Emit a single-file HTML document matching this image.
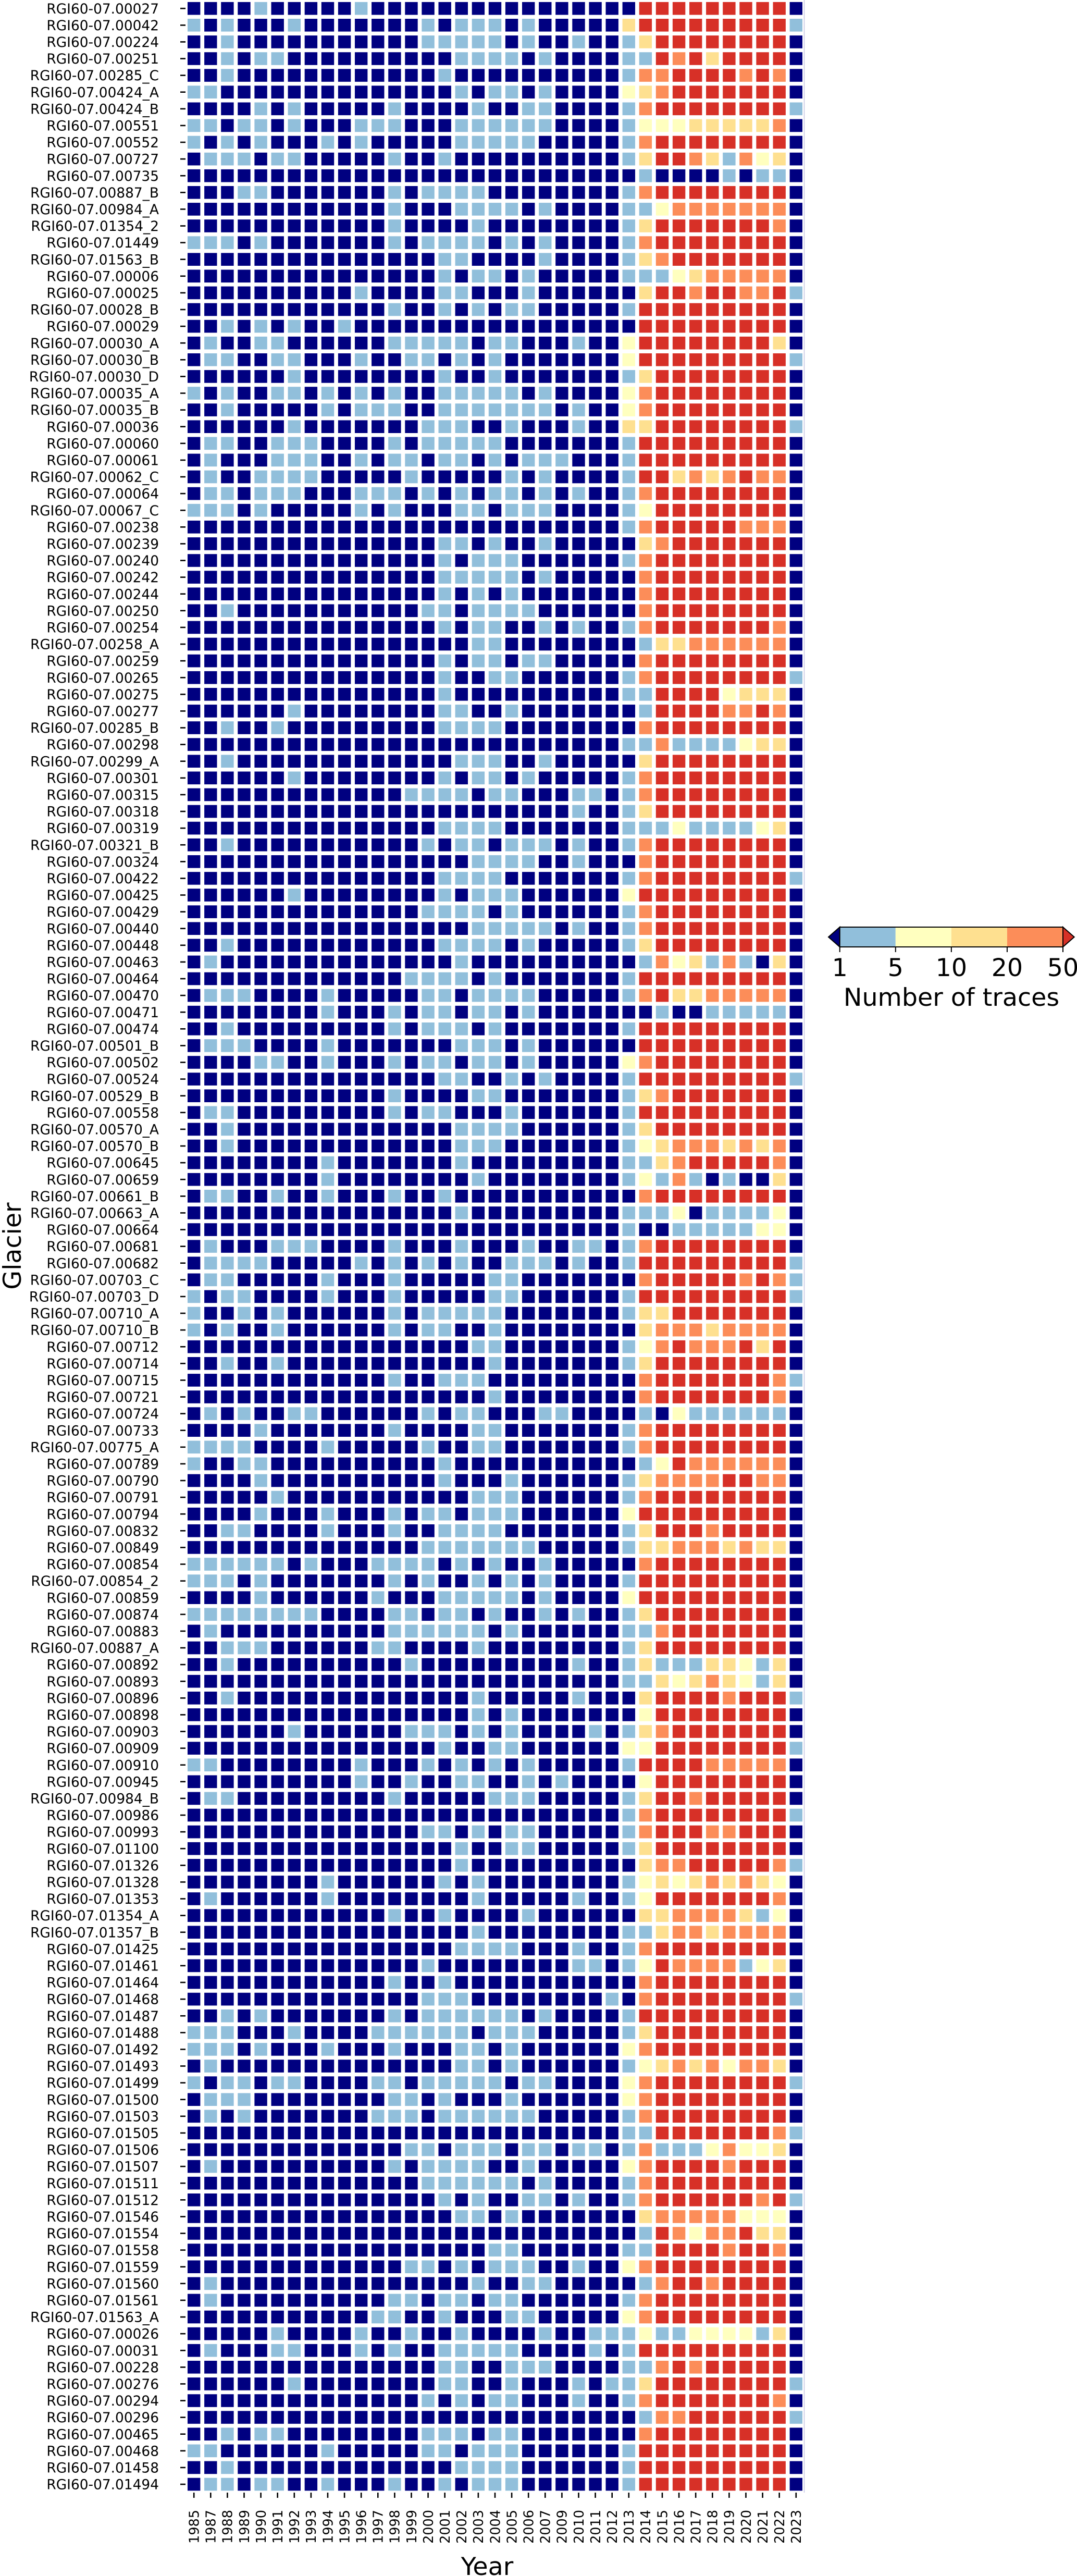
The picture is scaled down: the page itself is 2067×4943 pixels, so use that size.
<!DOCTYPE html>
<html lang="en">
<head>
<meta charset="utf-8">
<title>Number of traces per glacier and year</title>
<style>
html,body{margin:0;padding:0;background:#fff;}
svg{display:block;font-family:"DejaVu Sans","Liberation Sans",sans-serif;}
</style>
</head>
<body>
<svg id="chart" xmlns="http://www.w3.org/2000/svg" width="2067" height="4943" viewBox="0 0 2067 4943">
<rect x="0" y="0" width="2067" height="4943" fill="#ffffff"/>
<g id="cells"></g>
<g id="yticks"></g>
<g id="xticks"></g>
<line x1="1543.5" y1="0" x2="1543.5" y2="4783" stroke="#c4c4e2" stroke-width="1.5"/>
<text transform="translate(40 2391) rotate(-90)" text-anchor="middle" font-size="47.5" fill="#000">Glacier</text>
<text x="935" y="4941" text-anchor="middle" font-size="47.5" fill="#000">Year</text>
<g id="colorbar"></g>
<text x="1826" y="1930" text-anchor="middle" font-size="47.5" fill="#000">Number of traces</text>
</svg>
<script>
const years = [1985,1987,1988,1989,1990,1991,1992,1993,1994,1995,1996,1997,1998,1999,2000,2001,2002,2003,2004,2005,2006,2007,2009,2010,2011,2012,2013,2014,2015,2016,2017,2018,2019,2020,2021,2022,2023];
const glaciers = ["RGI60-07.00027","RGI60-07.00042","RGI60-07.00224","RGI60-07.00251","RGI60-07.00285_C","RGI60-07.00424_A","RGI60-07.00424_B","RGI60-07.00551","RGI60-07.00552","RGI60-07.00727","RGI60-07.00735","RGI60-07.00887_B","RGI60-07.00984_A","RGI60-07.01354_2","RGI60-07.01449","RGI60-07.01563_B","RGI60-07.00006","RGI60-07.00025","RGI60-07.00028_B","RGI60-07.00029","RGI60-07.00030_A","RGI60-07.00030_B","RGI60-07.00030_D","RGI60-07.00035_A","RGI60-07.00035_B","RGI60-07.00036","RGI60-07.00060","RGI60-07.00061","RGI60-07.00062_C","RGI60-07.00064","RGI60-07.00067_C","RGI60-07.00238","RGI60-07.00239","RGI60-07.00240","RGI60-07.00242","RGI60-07.00244","RGI60-07.00250","RGI60-07.00254","RGI60-07.00258_A","RGI60-07.00259","RGI60-07.00265","RGI60-07.00275","RGI60-07.00277","RGI60-07.00285_B","RGI60-07.00298","RGI60-07.00299_A","RGI60-07.00301","RGI60-07.00315","RGI60-07.00318","RGI60-07.00319","RGI60-07.00321_B","RGI60-07.00324","RGI60-07.00422","RGI60-07.00425","RGI60-07.00429","RGI60-07.00440","RGI60-07.00448","RGI60-07.00463","RGI60-07.00464","RGI60-07.00470","RGI60-07.00471","RGI60-07.00474","RGI60-07.00501_B","RGI60-07.00502","RGI60-07.00524","RGI60-07.00529_B","RGI60-07.00558","RGI60-07.00570_A","RGI60-07.00570_B","RGI60-07.00645","RGI60-07.00659","RGI60-07.00661_B","RGI60-07.00663_A","RGI60-07.00664","RGI60-07.00681","RGI60-07.00682","RGI60-07.00703_C","RGI60-07.00703_D","RGI60-07.00710_A","RGI60-07.00710_B","RGI60-07.00712","RGI60-07.00714","RGI60-07.00715","RGI60-07.00721","RGI60-07.00724","RGI60-07.00733","RGI60-07.00775_A","RGI60-07.00789","RGI60-07.00790","RGI60-07.00791","RGI60-07.00794","RGI60-07.00832","RGI60-07.00849","RGI60-07.00854","RGI60-07.00854_2","RGI60-07.00859","RGI60-07.00874","RGI60-07.00883","RGI60-07.00887_A","RGI60-07.00892","RGI60-07.00893","RGI60-07.00896","RGI60-07.00898","RGI60-07.00903","RGI60-07.00909","RGI60-07.00910","RGI60-07.00945","RGI60-07.00984_B","RGI60-07.00986","RGI60-07.00993","RGI60-07.01100","RGI60-07.01326","RGI60-07.01328","RGI60-07.01353","RGI60-07.01354_A","RGI60-07.01357_B","RGI60-07.01425","RGI60-07.01461","RGI60-07.01464","RGI60-07.01468","RGI60-07.01487","RGI60-07.01488","RGI60-07.01492","RGI60-07.01493","RGI60-07.01499","RGI60-07.01500","RGI60-07.01503","RGI60-07.01505","RGI60-07.01506","RGI60-07.01507","RGI60-07.01511","RGI60-07.01512","RGI60-07.01546","RGI60-07.01554","RGI60-07.01558","RGI60-07.01559","RGI60-07.01560","RGI60-07.01561","RGI60-07.01563_A","RGI60-07.00026","RGI60-07.00031","RGI60-07.00228","RGI60-07.00276","RGI60-07.00294","RGI60-07.00296","RGI60-07.00465","RGI60-07.00468","RGI60-07.01458","RGI60-07.01494"];
const colorbarTicks = [1,5,10,20,50];
const classColors = ["#000080","#91bfdb","#ffffbf","#fee090","#fc8d59","#d73027"];
/* Trace-count class per glacier (row) and year (column):
   0 = below 1, 1 = 1-5, 2 = 5-10, 3 = 10-20, 4 = 20-50, 5 = above 50 */
const traceClass = [
[0,0,0,0,1,0,0,0,0,0,1,0,0,0,0,0,0,0,0,0,0,0,0,0,0,0,0,5,5,5,5,5,5,5,5,5,0],
[1,0,1,0,0,0,1,0,0,0,0,0,0,0,1,0,1,1,1,0,1,0,0,0,0,0,3,5,5,5,5,5,5,5,5,5,1],
[0,0,1,0,0,0,0,0,0,0,0,0,0,0,1,1,1,1,1,0,1,0,0,1,0,0,1,3,5,5,5,5,5,5,5,5,0],
[0,0,1,0,1,1,0,0,0,0,0,0,0,0,0,0,1,1,1,1,0,1,0,0,0,0,1,1,5,4,5,3,5,5,5,5,0],
[0,0,1,0,0,0,0,0,0,0,0,0,0,0,0,1,0,0,0,0,0,0,0,0,0,0,1,4,4,5,5,5,5,4,5,4,0],
[1,1,0,0,0,0,0,0,0,0,0,0,0,0,0,0,1,0,1,1,0,1,0,0,0,0,2,3,4,5,5,5,5,5,5,5,0],
[0,0,0,0,1,0,1,0,0,0,0,0,1,0,0,0,0,1,0,0,1,1,0,0,0,0,1,4,5,5,5,5,5,5,5,5,1],
[1,1,0,1,1,0,1,0,0,0,1,1,1,0,0,0,1,1,1,1,1,1,0,0,0,0,1,2,2,2,3,3,3,3,3,4,0],
[1,0,1,0,1,0,0,0,1,0,1,0,0,0,0,0,1,1,1,1,1,0,0,0,0,0,1,4,5,5,5,5,5,5,5,5,0],
[0,1,1,1,0,1,1,0,0,0,0,0,1,0,0,1,0,0,0,0,0,0,0,0,0,0,1,3,5,5,4,3,1,4,2,3,0],
[0,0,0,0,0,0,0,0,0,0,0,0,0,0,0,0,0,0,0,0,0,0,0,0,0,0,0,1,0,0,0,0,1,0,1,1,0],
[0,0,0,1,1,0,0,0,0,0,0,0,1,0,1,1,1,1,0,0,0,0,0,0,0,0,1,4,5,5,5,5,5,5,5,5,0],
[0,0,0,0,0,0,0,0,0,0,0,0,1,0,0,0,1,1,1,1,0,1,0,0,0,0,1,1,2,4,4,4,4,4,4,4,0],
[0,0,0,0,0,0,0,0,0,0,0,0,1,0,0,0,0,1,0,0,0,0,0,0,0,0,1,3,5,5,5,5,5,5,5,4,0],
[1,1,1,0,1,0,0,0,0,0,0,0,1,0,1,1,1,1,0,1,0,1,0,0,0,0,1,4,5,5,5,5,5,5,5,5,0],
[0,0,0,0,0,0,0,0,0,0,0,0,0,0,0,1,1,0,0,0,0,1,0,0,0,0,1,3,4,5,5,5,5,5,5,5,0],
[0,0,0,0,0,0,0,0,0,0,0,0,0,0,0,1,0,1,1,0,1,0,0,0,0,0,1,1,1,2,3,4,4,4,4,4,0],
[0,0,0,0,0,0,0,0,0,0,1,0,0,0,0,1,1,0,0,0,1,0,0,0,0,0,0,3,5,5,4,5,5,4,4,5,1],
[0,0,0,0,0,0,0,0,0,0,0,0,1,0,0,1,0,1,0,1,1,0,0,0,0,0,1,5,5,5,5,5,5,5,5,5,0],
[0,0,1,0,1,0,1,0,0,1,0,0,0,0,0,0,0,0,0,0,0,0,0,0,0,0,0,5,5,5,5,5,5,5,5,5,0],
[0,1,0,0,1,1,0,0,0,0,0,0,1,1,1,1,1,0,1,1,0,0,0,1,0,0,2,5,5,5,5,5,5,5,5,3,0],
[0,1,1,0,0,1,1,0,0,0,1,0,0,1,1,0,1,0,1,0,0,0,0,0,0,0,2,5,5,5,5,5,5,5,5,5,1],
[0,0,0,0,0,0,1,0,0,0,0,0,0,0,0,1,0,0,1,0,0,0,0,0,0,0,1,3,5,5,5,5,5,5,5,5,0],
[1,0,1,0,0,1,1,0,1,0,1,0,1,0,0,1,1,1,1,1,0,1,0,0,0,0,2,4,5,5,5,5,5,5,5,5,0],
[0,0,1,0,0,0,0,0,1,0,1,1,1,0,0,1,1,1,1,1,1,1,0,1,0,0,2,4,5,5,5,5,5,5,5,5,0],
[0,0,0,0,0,0,1,0,0,0,0,0,0,0,1,1,1,0,0,1,0,0,0,1,0,0,3,3,5,5,5,5,5,5,5,5,1],
[0,1,1,0,0,1,1,1,0,0,0,0,1,0,1,1,1,1,1,0,0,0,0,0,0,0,1,5,5,5,5,5,5,5,5,5,0],
[0,1,0,0,0,1,1,1,0,0,1,0,1,1,0,1,1,0,1,0,1,1,1,0,0,0,1,5,5,5,5,5,5,5,5,5,0],
[0,1,0,0,1,1,1,1,0,0,0,0,0,1,0,0,0,0,0,1,0,1,0,0,0,0,1,5,5,3,4,3,4,5,4,4,0],
[0,1,1,0,1,1,1,0,0,0,1,1,1,0,1,0,1,0,1,1,0,1,0,1,0,0,1,4,5,5,5,5,5,5,5,5,0],
[1,1,1,0,1,0,0,0,0,0,1,0,1,0,0,0,1,1,0,1,1,1,0,0,0,0,1,2,5,5,5,5,5,5,5,5,0],
[0,0,0,0,0,0,0,0,0,0,0,0,0,0,0,0,0,0,0,0,0,0,0,0,0,0,1,4,5,5,5,5,5,4,4,4,0],
[0,0,0,0,0,0,0,0,0,0,0,0,0,0,0,1,1,0,1,0,0,1,0,0,0,0,0,3,4,5,5,5,5,5,5,5,0],
[0,0,0,0,0,0,0,0,0,0,0,0,0,0,0,1,0,1,1,1,0,0,0,0,0,0,1,4,5,5,5,5,5,5,5,5,0],
[0,0,0,0,0,0,0,0,0,0,0,0,0,0,0,1,1,1,1,1,0,1,0,0,0,0,0,4,5,5,5,5,5,5,5,5,0],
[0,0,0,0,0,0,0,0,0,0,0,0,0,0,0,1,0,1,0,1,0,0,0,0,0,0,0,4,5,5,5,5,5,5,5,5,0],
[0,0,1,0,0,0,0,0,0,0,0,0,0,0,1,1,0,1,1,1,1,0,0,0,0,0,0,4,5,5,5,5,5,5,5,5,0],
[0,0,0,0,0,0,0,0,0,0,0,0,0,0,0,1,0,1,1,0,0,1,0,1,0,0,1,4,5,5,5,5,5,5,5,4,0],
[0,0,0,0,0,0,0,0,0,0,0,0,0,0,0,0,0,1,1,0,0,0,0,0,0,0,0,1,3,3,4,4,4,4,4,4,0],
[0,0,0,0,0,0,0,0,0,0,0,0,0,0,0,1,0,1,1,0,1,1,0,0,0,0,0,4,5,5,5,5,5,5,5,5,0],
[0,0,0,0,0,0,0,0,0,0,0,0,0,0,0,1,0,0,1,1,0,0,0,0,0,0,1,4,5,5,5,5,5,5,5,5,1],
[0,0,0,0,0,0,0,0,0,0,0,0,0,0,0,1,0,0,0,0,0,0,0,0,0,0,1,1,5,5,5,5,2,3,3,3,0],
[0,0,0,0,0,0,1,0,0,0,0,0,0,0,0,1,1,0,0,1,0,0,0,0,0,0,0,1,5,5,5,5,4,4,5,4,0],
[0,0,1,0,0,1,0,0,0,0,0,0,0,0,0,1,1,1,1,0,0,0,0,0,0,0,0,4,5,5,5,5,5,5,5,5,0],
[0,0,0,0,0,0,0,0,0,0,0,0,0,0,0,0,0,0,0,0,0,0,0,0,0,0,1,1,4,1,1,1,1,2,3,3,0],
[0,0,1,0,0,0,0,0,0,0,0,0,0,0,0,0,1,1,1,0,0,1,0,0,0,0,0,3,5,5,5,5,5,5,5,5,0],
[0,0,0,0,0,0,1,0,0,0,0,0,0,0,0,1,0,1,1,0,1,0,0,0,0,0,1,4,5,5,5,5,5,5,5,5,0],
[0,0,0,0,0,0,0,0,0,0,0,0,0,1,1,1,1,0,1,1,0,0,0,1,1,0,1,4,5,5,5,5,5,5,5,5,0],
[0,0,0,0,0,0,0,0,0,0,0,0,0,0,0,0,0,0,0,0,0,0,0,1,0,0,1,3,5,5,5,5,5,5,5,5,0],
[0,0,0,0,0,0,0,0,0,0,0,0,0,0,0,1,1,1,1,0,0,0,0,0,0,0,1,1,1,2,1,1,1,1,2,3,0],
[0,0,1,0,0,0,0,0,0,0,0,0,0,0,1,0,1,1,0,1,1,1,0,1,0,0,1,4,5,5,5,5,5,5,5,5,0],
[0,0,0,0,0,0,0,0,0,0,0,0,0,0,0,0,0,1,1,1,1,0,0,1,0,0,0,4,5,5,5,5,5,5,5,5,0],
[0,0,0,0,0,0,0,0,0,0,0,0,0,0,0,1,1,1,1,0,0,0,0,0,0,0,1,4,5,5,5,5,5,5,5,5,1],
[0,0,0,0,0,0,1,0,0,0,0,0,0,0,0,1,0,1,1,1,0,0,0,0,0,0,2,5,5,5,5,5,5,5,5,5,0],
[0,0,0,0,0,0,0,0,0,0,0,0,0,0,1,1,1,1,0,1,0,0,0,0,0,0,1,4,5,5,5,5,5,5,5,5,0],
[0,0,0,0,0,0,0,0,0,0,0,0,0,0,0,0,0,1,1,1,1,1,0,1,0,0,1,4,5,5,5,5,5,5,5,5,0],
[0,0,1,0,0,0,0,0,0,0,0,0,0,0,0,1,1,1,1,0,1,0,0,0,0,0,1,3,5,5,5,5,5,5,5,5,0],
[0,1,0,0,0,0,0,0,0,0,0,0,0,0,0,0,1,0,0,0,0,0,0,0,0,0,0,1,4,2,3,1,4,1,0,3,0],
[0,0,0,0,0,0,0,0,0,0,0,0,0,1,1,1,1,0,1,0,0,0,0,0,0,0,1,5,5,5,5,5,5,5,5,5,0],
[0,1,1,1,0,0,0,0,1,0,0,0,0,0,1,1,0,1,1,1,1,0,0,0,0,0,1,4,5,3,3,4,4,4,4,4,0],
[0,0,0,0,0,0,0,0,1,0,0,0,1,0,1,1,0,1,1,0,1,0,0,0,0,0,0,0,1,0,0,1,1,1,1,1,0],
[0,0,1,0,0,0,0,0,0,0,0,0,1,0,1,1,1,0,1,0,0,0,0,0,0,0,1,5,5,5,5,5,5,5,5,5,0],
[0,1,1,1,0,0,0,0,1,0,0,0,0,0,0,0,1,1,1,0,1,0,0,0,0,0,0,5,5,5,5,5,5,5,5,5,0],
[0,0,0,0,1,1,0,0,1,0,0,0,1,0,1,1,0,1,1,0,1,0,0,0,0,0,2,4,5,5,5,5,5,5,5,5,0],
[0,0,0,0,0,0,0,0,0,0,0,0,0,0,0,1,1,0,0,1,0,1,0,0,0,0,1,5,5,5,5,5,5,5,5,5,1],
[0,0,0,0,0,0,0,0,0,0,0,0,1,0,0,0,0,1,1,0,0,0,0,0,0,0,1,3,4,5,5,5,5,5,5,5,0],
[0,1,1,0,0,0,0,0,0,0,0,0,1,0,1,1,0,0,0,1,0,0,0,0,0,0,1,5,5,5,5,5,5,5,5,5,0],
[0,0,1,0,0,0,0,0,0,0,0,0,0,0,0,0,1,1,1,1,0,0,0,0,0,0,1,3,5,5,5,5,5,5,5,5,0],
[0,0,1,0,0,0,0,0,0,0,0,0,0,0,0,0,1,1,1,0,0,0,0,0,0,0,1,2,3,4,4,4,3,4,3,4,0],
[0,0,0,0,0,0,0,0,1,0,0,0,0,0,0,0,1,0,0,0,0,0,0,0,0,0,1,1,3,4,5,5,5,5,5,4,0],
[0,0,0,0,0,0,0,0,1,0,0,0,0,0,0,0,0,1,0,0,0,0,0,0,0,0,1,2,1,4,1,0,1,0,0,3,0],
[0,1,1,0,0,1,0,0,1,0,0,0,1,0,0,1,0,0,0,0,0,0,0,0,0,0,0,4,5,5,5,5,5,5,5,5,0],
[0,0,0,0,0,0,0,0,0,0,0,0,0,0,0,0,1,0,0,0,0,0,0,0,0,0,1,1,1,2,0,1,1,1,1,2,0],
[0,0,0,0,0,0,0,0,0,0,0,0,0,0,0,0,0,0,0,0,0,0,0,0,0,0,1,0,0,1,1,1,1,1,2,2,0],
[0,1,0,0,0,1,1,1,0,0,0,0,1,0,0,0,1,0,0,0,1,0,0,1,1,0,1,4,5,5,5,5,5,5,5,5,0],
[0,1,1,1,1,0,0,0,0,0,1,0,1,0,1,0,1,0,0,1,1,1,0,1,0,0,1,5,5,5,5,5,5,5,5,5,1],
[0,1,1,0,0,0,0,0,1,0,0,0,1,0,0,0,0,0,1,1,0,0,0,0,0,0,0,4,5,5,5,5,5,4,5,4,1],
[1,0,1,1,0,0,0,0,1,0,0,0,1,0,0,0,0,0,1,1,0,0,0,0,0,0,1,5,5,5,5,5,5,5,5,5,1],
[1,0,0,1,0,1,0,0,0,0,0,0,1,0,1,1,1,1,1,0,0,0,0,0,0,0,1,3,3,5,5,5,5,5,5,5,0],
[1,0,1,0,0,1,0,0,0,0,0,0,1,0,1,1,0,0,1,0,0,0,0,0,0,0,0,3,4,4,4,3,4,4,4,4,0],
[0,0,0,0,0,0,0,0,0,0,0,0,0,0,0,0,0,1,1,0,0,0,0,0,0,0,1,2,4,5,4,4,4,5,3,5,0],
[0,0,1,0,0,1,0,0,0,0,0,0,0,0,0,0,0,0,1,0,0,0,0,0,0,0,1,3,5,5,5,5,5,5,5,5,0],
[0,0,0,0,0,0,0,0,0,0,0,0,1,0,0,1,1,1,0,0,0,0,0,0,0,0,0,4,5,5,5,5,5,5,5,4,1],
[0,0,0,0,0,0,0,0,0,0,0,0,0,0,0,0,0,0,1,0,0,0,0,0,0,0,0,4,5,5,5,5,5,5,5,4,0],
[0,1,0,1,0,0,1,1,0,0,0,0,0,0,1,0,1,1,0,0,0,1,1,0,0,0,0,1,0,2,1,1,1,1,1,1,0],
[0,0,0,0,1,0,0,0,0,0,0,0,1,0,0,0,0,1,1,0,0,0,0,0,0,0,1,4,5,5,5,5,5,5,5,5,0],
[1,1,1,1,0,0,0,0,1,0,0,0,0,0,1,0,0,1,1,0,0,0,0,0,0,0,1,4,5,5,5,5,5,5,5,5,0],
[1,0,0,1,1,0,0,0,0,0,0,0,0,0,0,1,0,0,0,0,0,0,0,0,0,0,0,1,2,5,4,4,4,4,4,4,0],
[0,0,0,0,1,0,0,0,0,0,0,0,0,0,0,1,0,0,0,1,0,0,0,0,0,0,1,3,4,4,4,4,5,5,4,4,0],
[0,0,0,0,0,1,0,0,0,0,0,0,0,0,0,0,0,1,1,1,0,0,0,0,0,0,1,4,5,5,5,5,5,5,5,5,0],
[0,0,0,0,1,0,0,0,1,0,0,0,1,0,1,1,0,1,1,1,0,0,0,0,0,0,2,5,5,5,5,5,5,5,5,5,0],
[0,0,1,1,0,0,0,0,1,0,0,0,1,0,0,1,1,1,1,0,0,0,0,0,0,0,1,3,5,5,5,4,5,5,5,5,0],
[0,0,0,0,0,0,0,0,0,0,0,0,0,0,1,1,1,1,1,1,1,0,0,0,0,0,1,3,3,4,4,4,3,4,3,3,0],
[1,1,1,1,1,1,0,1,0,0,0,1,1,1,1,0,1,0,1,0,0,1,0,0,0,0,0,4,5,5,5,5,5,5,5,5,0],
[1,1,1,0,1,0,0,0,0,0,0,0,1,0,1,0,0,1,0,1,0,1,0,0,0,0,1,5,5,5,5,5,5,5,5,5,0],
[0,0,0,0,1,0,0,0,0,0,0,1,0,0,0,1,1,1,1,1,0,1,0,0,0,0,2,5,5,5,5,5,5,5,5,5,0],
[1,1,1,1,1,1,1,1,0,0,0,0,1,1,0,1,1,0,1,0,0,1,0,1,0,0,1,3,5,5,5,5,5,5,5,5,0],
[0,1,0,0,0,0,0,0,0,0,0,0,1,1,1,1,1,1,0,1,0,0,0,0,0,0,1,1,4,5,5,5,5,5,5,5,0],
[0,0,1,1,1,0,0,0,0,0,0,1,1,0,0,0,0,1,0,0,0,0,0,0,0,0,1,3,5,5,5,5,5,5,5,5,0],
[0,0,1,0,0,0,0,0,0,0,0,0,0,1,0,0,0,0,0,0,0,0,0,1,0,0,1,3,1,1,1,3,3,2,1,3,0],
[0,0,0,0,0,0,0,0,0,0,0,0,0,0,0,0,0,0,0,0,0,0,0,0,0,0,1,1,3,2,3,4,3,2,1,3,0],
[0,0,1,0,0,0,0,0,0,0,0,0,0,0,0,0,0,1,0,0,0,0,0,1,0,0,0,3,5,5,5,5,4,5,5,5,1],
[0,0,0,0,0,0,0,0,0,0,0,0,0,0,0,0,0,1,0,1,0,0,0,0,0,0,0,2,5,5,5,5,5,5,5,5,0],
[0,0,0,0,0,0,1,0,0,0,0,0,0,1,1,1,0,1,0,1,0,0,0,0,1,0,1,3,4,5,5,5,5,5,5,5,0],
[0,0,0,0,0,0,0,0,0,0,0,0,0,0,0,1,0,0,1,1,0,0,0,0,0,0,2,2,5,5,5,5,5,5,5,5,1],
[1,1,0,0,0,0,0,0,0,0,1,0,0,0,1,0,1,0,1,0,1,0,0,0,0,0,1,5,5,5,5,4,4,4,4,4,0],
[0,0,0,0,0,0,0,0,0,0,1,0,0,1,0,0,1,1,0,0,1,0,1,0,0,0,0,2,5,5,5,5,5,5,5,5,0],
[0,1,1,0,0,0,0,0,0,0,0,0,1,0,0,0,0,0,1,1,1,0,0,0,0,0,1,3,5,5,4,5,5,5,5,5,0],
[0,0,0,0,0,0,0,0,0,0,0,0,0,0,0,0,0,0,0,0,0,0,0,0,0,0,1,4,5,5,5,5,5,5,5,5,1],
[0,0,0,0,0,0,0,0,0,0,0,0,0,0,1,1,0,1,0,1,1,0,0,0,0,0,1,4,5,5,5,4,4,5,5,5,0],
[0,0,0,0,0,0,0,0,0,0,0,0,0,0,0,0,1,0,0,1,1,0,0,0,0,0,1,3,5,5,5,5,5,5,5,5,0],
[0,0,0,0,0,0,0,0,0,0,0,0,0,0,0,0,1,0,0,0,0,0,0,0,0,0,0,3,4,4,5,5,5,5,5,4,1],
[0,0,0,0,0,0,0,0,1,0,0,0,0,0,0,1,0,1,0,0,0,0,0,0,0,0,1,2,3,2,3,4,3,4,3,2,0],
[0,1,0,0,0,0,0,0,1,0,0,0,0,0,0,0,0,1,0,0,0,0,0,1,0,0,1,2,5,5,5,5,5,5,5,4,0],
[0,0,0,0,0,0,0,0,0,0,0,0,1,0,0,1,0,0,0,0,1,0,0,0,0,0,0,3,3,4,4,4,4,3,1,2,0],
[0,0,0,0,0,0,0,0,0,0,0,0,0,0,0,0,0,1,0,0,0,0,0,0,0,0,1,1,3,4,4,3,4,4,4,4,0],
[0,0,0,0,0,0,0,0,0,0,0,0,0,0,0,0,1,1,1,1,0,0,0,1,0,0,1,4,5,5,5,5,5,5,5,5,0],
[0,0,0,0,0,0,0,0,0,0,0,0,0,0,1,0,0,0,0,0,0,0,0,1,1,0,1,2,5,4,4,4,4,1,2,3,0],
[0,0,0,0,0,0,0,0,0,0,0,0,1,0,0,1,0,0,0,0,0,0,0,0,0,0,0,4,5,5,5,5,5,5,5,5,0],
[0,0,0,0,0,0,0,0,0,0,0,0,0,0,1,1,1,0,0,0,0,0,0,0,0,1,0,4,5,5,5,5,5,5,5,5,1],
[0,0,1,0,1,0,0,0,0,0,0,0,1,0,1,1,1,1,1,1,0,1,0,0,0,0,1,5,5,5,5,5,5,5,5,5,0],
[1,1,1,0,0,0,1,0,0,0,0,1,1,1,1,1,1,0,1,1,1,0,0,0,0,0,1,3,5,5,5,5,5,5,5,5,0],
[1,1,1,0,1,0,0,0,1,0,0,0,1,0,0,0,1,1,0,1,0,0,0,0,0,0,2,4,5,5,5,5,5,5,5,5,0],
[0,1,0,0,0,0,0,0,0,0,0,0,0,0,0,0,1,1,0,1,0,0,0,0,0,0,1,2,3,4,3,4,2,4,4,3,0],
[1,0,1,1,0,1,1,0,0,0,0,1,1,0,1,1,1,1,1,0,1,1,0,0,0,0,2,4,5,5,5,5,5,5,5,5,1],
[0,1,1,1,0,0,0,0,0,0,0,0,1,1,0,1,0,0,0,1,0,0,0,0,0,0,2,4,5,5,5,5,5,5,5,5,0],
[0,1,0,1,0,0,0,0,0,0,0,1,1,1,0,1,1,1,1,1,1,0,0,0,0,0,1,4,5,5,5,5,5,5,5,5,0],
[0,0,0,0,0,0,0,0,0,0,0,0,0,0,0,0,0,0,0,0,0,0,0,0,0,0,1,1,5,5,5,5,5,5,5,4,1],
[0,0,0,0,0,0,0,0,0,0,0,0,0,1,1,0,1,1,1,0,1,1,0,1,1,0,1,4,1,1,1,2,4,2,2,3,0],
[0,1,0,0,0,0,0,0,0,0,0,0,1,0,1,1,1,1,0,0,1,0,0,0,0,0,2,4,5,5,5,5,4,5,5,5,0],
[0,0,0,0,0,0,0,0,0,0,0,0,0,0,1,1,1,1,1,1,0,1,0,0,0,0,1,4,5,5,5,5,5,5,5,5,0],
[0,0,0,0,0,0,0,0,0,0,0,0,0,0,0,1,0,1,0,0,1,1,0,1,0,0,1,4,5,5,5,5,5,5,4,5,1],
[0,0,0,0,0,0,0,0,0,0,0,0,0,0,0,0,1,1,0,1,0,0,0,0,0,0,0,3,4,4,4,4,4,2,2,2,0],
[0,0,0,0,0,0,0,0,0,0,0,0,0,0,0,0,0,0,0,0,0,0,0,0,0,0,0,1,5,4,2,4,4,5,3,3,0],
[0,0,0,0,0,0,0,0,0,0,0,0,0,0,0,0,0,0,1,1,0,0,0,0,0,0,1,1,5,5,5,5,4,5,5,4,0],
[0,0,0,0,0,0,0,0,0,0,0,0,0,1,1,0,1,0,1,1,1,0,0,1,0,0,2,4,5,5,5,5,5,5,5,5,0],
[0,1,0,0,0,0,0,0,0,0,0,0,0,0,0,0,0,1,0,0,1,1,0,0,0,0,0,1,4,5,5,4,5,5,5,5,0],
[0,1,0,0,0,0,0,0,0,0,0,0,1,1,0,1,1,0,1,1,0,0,0,0,0,0,1,4,5,5,5,5,5,5,5,5,0],
[0,0,0,0,0,0,0,0,0,0,0,1,1,0,0,1,0,0,0,1,1,0,0,0,0,0,2,4,5,5,5,5,5,5,5,5,0],
[0,0,0,0,0,1,0,0,0,0,1,0,0,1,0,0,1,0,0,0,0,1,0,0,1,1,1,2,1,1,2,2,2,2,1,3,0],
[0,1,0,0,0,1,1,0,0,0,1,0,1,0,0,1,1,1,1,1,0,0,0,0,1,0,1,5,5,5,5,5,5,5,5,5,0],
[0,0,0,0,0,0,0,0,0,0,0,0,0,0,0,1,1,0,0,1,1,1,0,0,0,0,1,1,4,5,4,5,5,5,5,5,0],
[0,0,0,0,0,0,1,0,0,0,0,0,0,0,0,1,1,0,0,1,0,0,0,1,0,1,1,3,5,5,5,5,5,5,5,5,1],
[0,0,0,0,0,0,0,0,0,0,0,0,0,0,1,0,1,0,1,1,0,0,0,1,0,0,1,4,5,5,5,5,5,5,5,4,0],
[0,0,0,0,0,0,0,0,0,0,0,0,0,0,0,0,0,0,0,0,0,0,0,0,0,0,0,1,4,4,5,5,5,5,5,5,1],
[0,0,1,0,1,1,0,0,0,0,0,0,0,0,1,1,1,0,1,1,0,0,0,0,0,0,0,4,5,5,5,5,5,5,5,5,0],
[1,1,0,0,0,0,0,0,1,0,0,0,0,0,1,1,0,1,1,1,0,0,0,0,0,0,1,5,5,5,5,5,5,5,5,5,0],
[0,0,1,0,0,0,0,0,0,0,0,0,0,0,0,0,1,1,1,1,0,0,0,0,0,0,1,5,5,5,5,5,5,5,5,5,0],
[0,1,1,0,1,1,0,0,1,0,0,0,1,0,0,1,0,1,1,1,0,0,0,0,0,0,1,5,5,5,5,5,5,5,5,5,0]
];

const NS = 'http://www.w3.org/2000/svg';
const colX = i => 360 + 32.1 * i;
const rowY = r => 3.9 + 32.1 * r;
const CELL_W = 24.4;
const CELL_H = 24.6;
const colorFor = v => classColors[Math.max(0, Math.min(classColors.length - 1, Math.round(v)))];

function make(tag, attrs, parent) {
  const el = document.createElementNS(NS, tag);
  for (const k in attrs) el.setAttribute(k, attrs[k]);
  parent.appendChild(el);
  return el;
}

const cellsG = document.getElementById('cells');
traceClass.forEach((row, r) => {
  row.forEach((v, c) => {
    const cell = make('rect', {x: colX(c), y: rowY(r), width: CELL_W, height: CELL_H, fill: colorFor(v)}, cellsG);
    
    
  });
});

const yG = document.getElementById('yticks');
glaciers.forEach((name, r) => {
  const cy = rowY(r) + CELL_H / 2;
  const tick = make('line', {x1: 346, x2: 356, y1: cy, y2: cy, stroke: '#000', 'stroke-width': 2.6}, yG);
  
  
  const label = make('text', {x: 305, y: cy + 9.6, 'text-anchor': 'end', 'font-size': 26.4, fill: '#000'}, yG);
  label.textContent = name;
  
  
});

const xG = document.getElementById('xticks');
years.forEach((year, c) => {
  const cx = colX(c) + CELL_W / 2;
  const tick = make('line', {x1: cx, x2: cx, y1: 4783, y2: 4793, stroke: '#000', 'stroke-width': 2.6}, xG);
  
  
  const tx = cx + 9.3;
  const label = make('text', {x: tx, y: 4816, 'text-anchor': 'end', 'font-size': 25.5, fill: '#000', transform: 'rotate(-90 ' + tx + ' 4816)'}, xG);
  label.textContent = year;
  
  
});

const cb = document.getElementById('colorbar');
const CB_L = 1611.7, CB_R = 2040, CB_T = 1779, CB_B = 1817;
const cbX = i => CB_L + (CB_R - CB_L) * i / (colorbarTicks.length - 1);
const leftCap = make('polygon', {points: CB_L + ',' + CB_T + ' ' + (CB_L - 21.7) + ',' + (CB_T + CB_B) / 2 + ' ' + CB_L + ',' + CB_B, fill: classColors[0], stroke: '#000', 'stroke-width': 2}, cb);


const rightCap = make('polygon', {points: CB_R + ',' + CB_T + ' ' + (CB_R + 21.7) + ',' + (CB_T + CB_B) / 2 + ' ' + CB_R + ',' + CB_B, fill: classColors[5], stroke: '#000', 'stroke-width': 2}, cb);


colorbarTicks.slice(0, -1).forEach((t, i) => {
  const seg = make('rect', {x: cbX(i), y: CB_T, width: cbX(i + 1) - cbX(i), height: CB_B - CB_T, fill: classColors[i + 1]}, cb);
  
  
});
const cbOutline = make('rect', {x: CB_L, y: CB_T, width: CB_R - CB_L, height: CB_B - CB_T, fill: 'none', stroke: '#000', 'stroke-width': 2}, cb);


colorbarTicks.forEach((t, i) => {
  const tick = make('line', {x1: cbX(i), x2: cbX(i), y1: CB_B, y2: 1827, stroke: '#000', 'stroke-width': 2}, cb);
  
  
  const label = make('text', {x: cbX(i), y: 1873, 'text-anchor': 'middle', 'font-size': 47.5, fill: '#000'}, cb);
  label.textContent = t;
  
  
});
</script>
</body>
</html>
